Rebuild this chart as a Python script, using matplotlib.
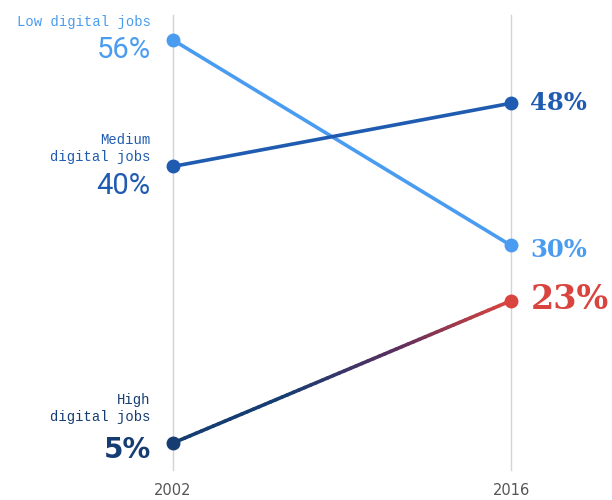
import numpy as np
import matplotlib
matplotlib.use('Agg')
import matplotlib.pyplot as plt
from matplotlib.collections import LineCollection
from matplotlib.colors import LinearSegmentedColormap

years = [2002, 2016]
low = [56, 30]
medium = [40, 48]
high = [5, 23]
names = ['Low digital jobs', 'Medium\ndigital jobs', 'High\ndigital jobs']

c_low = '#4a9cf0'
c_med = '#1f5bb0'
c_high = '#163d72'
c_red = '#d9443e'

fig = plt.figure(figsize=(6.12, 5), dpi=100)
ax = fig.add_axes([173/612, 1-443/500, 338/612, (443-40)/500])
ax.set_xlim(2002, 2016)
ax.set_ylim(5, 56)
ax.axis('off')

# vertical guide lines
for yr in years:
    ax.plot([yr, yr], [1.6, 59.2], color='#d4d4d4', lw=1, clip_on=False, zorder=0)

ax.plot(years, low, color=c_low, lw=2.6, marker='o', ms=9, clip_on=False, zorder=3)
ax.plot(years, medium, color=c_med, lw=2.6, marker='o', ms=9, clip_on=False, zorder=3)

# high line with gradient navy -> red
t = np.linspace(0, 1, 60)
xs = years[0] + t*(years[1]-years[0])
ys = high[0] + t*(high[1]-high[0])
pts = np.array([xs, ys]).T.reshape(-1, 1, 2)
segs = np.concatenate([pts[:-1], pts[1:]], axis=1)
cmap = LinearSegmentedColormap.from_list('g', [c_high, c_high, '#5a2f5e', c_red])
lc = LineCollection(segs, cmap=cmap, linewidth=2.6, clip_on=False, zorder=3,
                    capstyle='round')
lc.set_array(t[:-1])
ax.add_collection(lc)
ax.plot(years[0], high[0], 'o', color=c_high, ms=9, clip_on=False, zorder=4)
ax.plot(years[1], high[1], 'o', color=c_red, ms=9, clip_on=False, zorder=4)

mono = 'Liberation Mono'
def lab(txt, y, dy, color, size, family, weight='normal'):
    ax.annotate(txt, xy=(2002, y), xytext=(-16, dy), textcoords='offset points',
                ha='right', va='center', color=color, fontsize=size,
                family=family, weight=weight, multialignment='right',
                linespacing=1.3)

# left labels
lab(names[0], low[0], 13, c_low, 10, mono)
lab('56%', low[0], -7, c_low, 21, 'Roboto')
lab(names[1], medium[0], 13, c_med, 10, mono)
lab('40%', medium[0], -14, c_med, 21, 'Roboto')
lab(names[2], high[0], 25, c_high, 10, mono)
lab('5%', high[0], -5, c_high, 20, 'DejaVu Sans', 'bold')

# right labels
def rlab(txt, y, dy, color, size):
    ax.annotate(txt, xy=(2016, y), xytext=(14, dy), textcoords='offset points',
                ha='left', va='center', color=color, fontsize=size,
                family='DejaVu Serif', weight='bold')

rlab('48%', medium[1], 0, c_med, 17.5)
rlab('30%', low[1], -3, c_low, 17.5)
rlab('23%', high[1], 1, c_red, 24)

for yr in years:
    ax.annotate(str(yr), xy=(yr, 5), xytext=(0, -34), textcoords='offset points',
                ha='center', va='center', color='#555555', fontsize=10.5)

fig.savefig('out.png', dpi=100, facecolor='white')
